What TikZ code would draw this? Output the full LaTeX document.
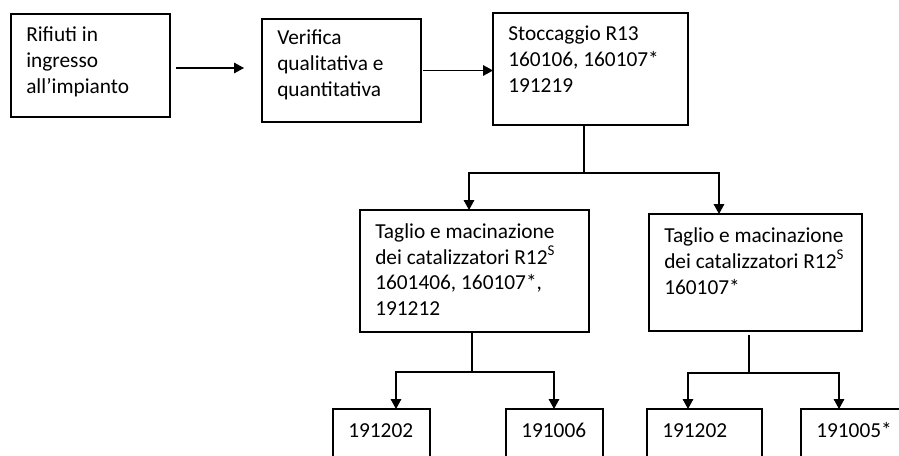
\documentclass[tikz,border=0pt]{standalone}
\usepackage{fontspec}
\setmainfont{Carlito}
\usetikzlibrary{arrows.meta,calc}
\begin{document}
\begin{tikzpicture}[x=0.75pt,y=-0.75pt,
  box/.style n args={2}{draw=black,line width=0.8pt,anchor=north west,inner sep=0pt,outer sep=0pt,
    minimum width=#1*0.75pt,minimum height=#2*0.75pt},
  txt/.style={anchor=base west,inner sep=0pt,font=\fontsize{16pt}{19.5pt}\selectfont},
  conn/.style={line width=0.8pt,draw=black},
  arr/.style={conn,-{Triangle[length=7.5pt,width=8pt]}}]
\useasboundingbox (0,0) rectangle (899,456);
\clip (0,0) rectangle (899,456);

% boxes
\node[box={159}{103}] (b1) at (11,14) {};
\node[box={159}{103}] (b2) at (262,19) {};
\node[box={195}{112}] (b3) at (493,13) {};
\node[box={229}{122}] (b4) at (360,210) {};
\node[box={213}{117}] (b5) at (649,214) {};
\node[box={97}{80}] (c1) at (333,409) {};
\node[box={97}{80}] (c2) at (506,409) {};
\node[box={115}{80}] (c3) at (647,409) {};
\node[box={110}{80}] (c4) at (801,409) {};

% texts
\node[txt] (t1) at ([shift={(15,28)}]b1.north west) {\begin{tabular}[t]{@{}l@{}}Rifiuti in\\ingresso\\all’impianto\end{tabular}};
\node[txt] (t2) at ([shift={(15,26)}]b2.north west) {\begin{tabular}[t]{@{}l@{}}Verifica\\qualitativa e\\quantitativa\end{tabular}};
\node[txt] (t3) at ([shift={(15,28)}]b3.north west) {\begin{tabular}[t]{@{}l@{}}Stoccaggio R13\\160106, 160107*\\191219\end{tabular}};
\node[txt] (t4) at ([shift={(15,28)}]b4.north west) {\begin{tabular}[t]{@{}l@{}}Taglio e macinazione\\dei catalizzatori R12\textsuperscript{S}\\1601406, 160107*,\\191212\end{tabular}};
\node[txt] (t5) at ([shift={(15,28)}]b5.north west) {\begin{tabular}[t]{@{}l@{}}Taglio e macinazione\\dei catalizzatori R12\textsuperscript{S}\\160107*\end{tabular}};
\node[txt] (t6) at ([shift={(15,28)}]c1.north west) {191202};
\node[txt] (t7) at ([shift={(15,28)}]c2.north west) {191006};
\node[txt] (t8) at ([shift={(15,28)}]c3.north west) {191202};
\node[txt] (t9) at ([shift={(15,28)}]c4.north west) {191005*};

% horizontal arrows
\coordinate (a1s) at ([shift={(6,2.5)}]b1.east);
\draw[arr] (a1s) -- ($(a1s -| b2.west)+(-18,0)$);
\coordinate (a2s) at ([shift={(2,0)}]b2.east);
\draw[arr] (a2s) -- (a2s -| b3.west);

% tree from b3
\coordinate (j1) at (584,173);
\coordinate (j1l) at (469,173);
\coordinate (j1r) at (719,173);
\draw[conn] (j1 |- b3.south) -- (j1);
\draw[arr] (j1) -- (j1l) -- (j1l |- b4.north);
\draw[arr] (j1) -- (j1r) -- (j1r |- b5.north);

% tree from b4
\coordinate (j2) at (472,372);
\coordinate (j2l) at (396,372);
\coordinate (j2r) at (554,372);
\draw[conn] (j2 |- b4.south) -- (j2);
\draw[arr] (j2) -- (j2l) -- (j2l |- c1.north);
\draw[arr] (j2) -- (j2r) -- (j2r |- c2.north);

% tree from b5
\coordinate (j3) at (749,373);
\coordinate (j3l) at (688,373);
\coordinate (j3r) at (839,373);
\draw[conn] ($(j3 |- b5.south)+(0,4)$) -- (j3);
\draw[arr] (j3) -- (j3l) -- (j3l |- c3.north);
\draw[arr] (j3) -- (j3r) -- (j3r |- c4.north);
\end{tikzpicture}
\end{document}
